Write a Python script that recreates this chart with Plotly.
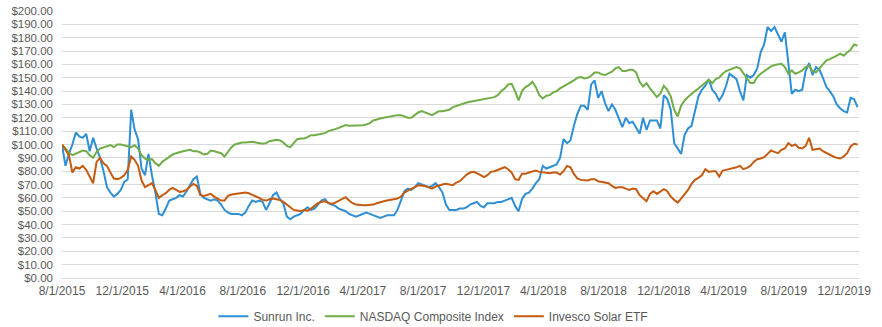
import pandas as pd
import plotly.graph_objects as go

# Weekly observation dates (categories)
dates = pd.date_range("2015-08-01", periods=231, freq="7D")

sunrun = [
    100, 84, 93, 100, 109, 106, 105, 108, 95, 105,
    97, 90, 80, 68, 64, 61, 63, 66, 72, 74,
    126, 111, 104, 82, 77, 93, 77, 64, 48, 47,
    52, 58, 59, 60, 62, 61, 65, 70, 74, 76,
    63, 60, 59, 58, 59, 58, 55, 51, 49, 48,
    48, 48, 47, 49, 54, 58, 57, 58, 57, 51,
    56, 62, 64, 59, 56, 46, 44, 46, 47, 48,
    51, 53, 51, 52, 55, 58, 59, 56, 55, 54,
    52, 51, 50, 48, 47, 46, 47, 48, 49, 48,
    47, 46, 45, 46, 47, 47, 47, 51, 58, 65,
    67, 66, 68, 71, 70, 69, 68, 69, 71, 68,
    64, 55, 51, 51, 51, 52, 52, 53, 55, 56,
    57, 54, 53, 56, 56, 56, 57, 57, 58, 59,
    60, 54, 50, 59, 63, 64, 67, 71, 74, 84,
    82, 83, 84, 85, 90, 104, 101, 103, 114, 123,
    129, 129, 126, 145, 148, 135, 140, 131, 125, 130,
    126, 119, 113, 120, 116, 117, 112, 108, 120, 111,
    118, 118, 118, 112, 137, 134, 126, 101, 97, 93,
    107, 112, 114, 125, 136, 141, 144, 149, 141, 138,
    133, 137, 144, 153, 151, 149, 140, 133, 152, 150,
    152, 157, 169, 175, 188, 185, 188, 182, 177, 184,
    160, 138, 141, 140, 141, 155, 161, 152, 158, 156,
    150, 143, 140, 136, 130, 127, 125, 124, 135, 134,
    128,
]

nasdaq = [
    100, 97, 94, 92, 93, 94.5, 95.5, 95, 92, 90,
    94.5, 97, 98, 99, 99.5, 98, 100, 100, 99.5, 98.5,
    98, 99.5, 97, 92, 89.5, 88.5, 89, 86, 84, 87,
    89, 91, 92.5, 93.5, 94.5, 95, 95.5, 96, 95, 95,
    94, 92.5, 93, 95.5, 95, 94, 93.5, 91, 95, 98,
    100, 101, 101.5, 101.5, 102, 102, 101.5, 101, 100.5, 101,
    102.5, 103, 103.5, 103, 101.5, 99, 98, 101, 104, 104.5,
    104.5, 105.5, 107, 107, 107.5, 108, 108.5, 110, 110.5, 111.5,
    112.5, 113.5, 114.5, 114, 114, 114.5, 114.5, 114.5, 115, 116,
    118, 119, 119.5, 120, 120.5, 121.5, 121.5, 122, 122, 121,
    120, 120, 122, 124, 125, 124, 122.5, 122, 123.5, 125,
    125, 125.5, 126, 128, 129, 129.5, 130.5, 131.5, 132, 132.5,
    133, 133.5, 134, 134.5, 135, 135.5, 137, 140, 142, 145,
    145.5, 140, 133, 140, 143, 144.5, 147, 143, 137, 134.5,
    136.5, 137, 139, 140, 142, 143.5, 145, 146, 148, 150,
    150.5, 149.5, 150, 151.5, 154, 154, 152.5, 152, 153, 154.5,
    157, 158, 155, 155, 156, 156, 154, 147, 143.5, 146,
    142, 139, 135.5, 138, 144, 141, 136, 126, 121, 129,
    133, 135.5, 138, 140, 142, 144, 146, 148.5, 146, 149,
    150, 153, 155, 156, 157, 158, 157, 153, 149, 146,
    146, 150.5, 153, 155, 157, 158.5, 159.5, 160, 160.5, 158,
    153, 155.5, 153, 154, 155.5, 158, 159, 155, 154, 157,
    160, 163, 164, 165, 166.5, 168, 166.5, 169, 171, 175,
    174,
]

solar = [
    100, 96, 92, 79, 83, 82, 84, 81, 76, 71,
    87, 90, 86, 84, 79, 74.5, 74, 75, 77, 81,
    91, 88.5, 84, 73, 68, 69.5, 71, 66, 60, 62,
    63.5, 66, 67.5, 66, 64.5, 65, 66, 68.5, 70.5, 69,
    62, 61.5, 62.5, 63, 61, 59.5, 58, 58, 61.5, 62.5,
    63, 63.5, 64, 64, 63.5, 62.5, 61.5, 60, 58.5, 58,
    59, 59.5, 59, 58.5, 57, 55, 53, 51, 50.5, 50,
    51, 50.5, 52, 54, 56, 57, 57.5, 56.5, 55.5, 56.5,
    58, 59, 60.5, 58, 56, 55, 54.5, 54.5, 54.5, 54.5,
    55, 56, 57, 57.5, 58, 58.5, 59, 59.5, 61, 64,
    65.5, 66.5, 68, 69.5, 69.5, 69, 68, 67, 68.5, 69.5,
    70, 70.5, 70, 69.5, 71.5, 72.5, 75, 77.5, 79, 79.5,
    78.5, 77, 75.5, 77, 79.5, 80, 81, 82, 83, 81.5,
    79, 74, 73.5, 78, 78, 79, 80, 80.5, 79.5, 79,
    78.5, 78.5, 79, 79, 77.5, 80, 84, 83, 78, 74.5,
    73.5, 73, 73, 74, 74, 72.5, 72, 71.5, 71, 69,
    67.5, 68, 68, 67, 66, 67, 66.5, 62, 60, 57.5,
    63, 65, 63, 64.5, 66.5, 65, 61, 58.5, 56.5, 59.5,
    63, 66, 70.5, 73.5, 75, 77, 81.5, 79.5, 80, 80,
    76, 80.5, 81, 81.5, 82, 83, 84, 81.5, 82.5, 84,
    87, 89, 89.5, 90.5, 93, 95.5, 94.5, 93.5, 96, 97,
    101, 99, 100, 97.5, 97, 99, 105, 96, 96.5, 97,
    95, 93.5, 92, 91, 90, 89.5, 91, 93.5, 98.5, 100.5,
    100,
]

series_names = ["Sunrun Inc.", "NASDAQ Composite Index", "Invesco Solar ETF"]
series_colors = ["#2F8FD5", "#70AD47", "#C55A11"]

tick_dates = pd.date_range("2015-08-01", "2019-12-01", freq="4MS")
tick_text = [f"{d.month}/{d.day}/{d.year}" for d in tick_dates]
y_ticks = list(range(0, 201, 10))
y_tick_text = ["$" + f"{v:.2f}" for v in y_ticks]

fig = go.Figure()
for name, vals, col in zip(series_names, [sunrun, nasdaq, solar], series_colors):
    fig.add_trace(go.Scatter(
        x=dates, y=vals, name=name, mode="lines",
        line=dict(color=col, width=2),
        hoverinfo="skip",
    ))

font_family = "Liberation Sans, Arial, sans-serif"
fig.update_layout(
    width=882, height=327,
    margin=dict(l=62, r=23, t=11, b=49, autoexpand=False),
    paper_bgcolor="white", plot_bgcolor="white",
    font=dict(family=font_family, size=12, color="#595959"),
    showlegend=True,
    legend=dict(
        orientation="h", x=0.466, xanchor="center",
        y=-0.1436, yanchor="middle",
        font=dict(size=12, color="#595959"),
        itemwidth=30, tracegroupgap=0,
    ),
    xaxis=dict(
        range=["2015-08-01", "2019-12-31"],
        tickvals=tick_dates, ticktext=tick_text,
        showgrid=False, zeroline=False, automargin=False,
        showline=True, linecolor="#D9D9D9", linewidth=1,
        ticks="outside", ticklen=2, tickcolor="rgba(0,0,0,0)",
        tickfont=dict(size=12, color="#595959"),
    ),
    yaxis=dict(
        range=[0, 200], tickvals=y_ticks, ticktext=y_tick_text,
        showgrid=True, gridcolor="#D9D9D9", gridwidth=1,
        zeroline=False, showline=False, ticks="", automargin=False,
        tickfont=dict(size=11.5, color="#595959"),
        ticklabelstandoff=8,
    ),
)

fig.write_html("out.html")
